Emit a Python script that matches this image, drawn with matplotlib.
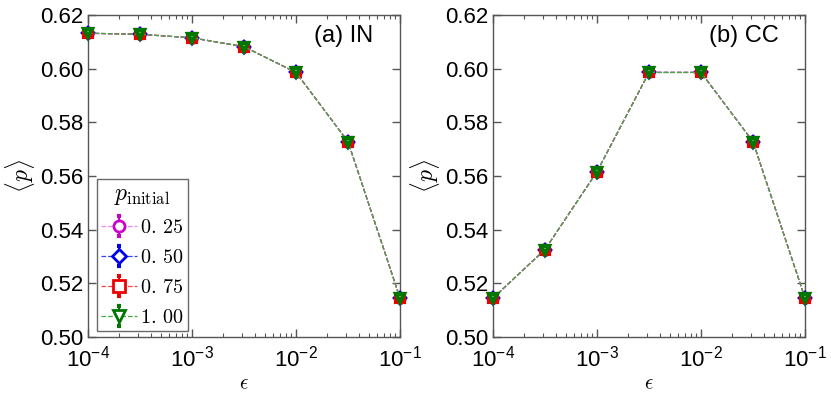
import numpy as np
import matplotlib
matplotlib.use("Agg")
import matplotlib.pyplot as plt
from matplotlib.legend_handler import HandlerErrorbar

plt.rcParams['font.family'] = ['Liberation Sans', 'DejaVu Sans']
plt.rcParams['mathtext.fontset'] = 'cm'

eps = [1e-4, 10**-3.5, 1e-3, 10**-2.5, 1e-2, 10**-1.5, 1e-1]
p_initial = ["0.25", "0.50", "0.75", "1.00"]
p_in = [0.6132, 0.6128, 0.6115, 0.6082, 0.5986, 0.5728, 0.5145]
p_cc = [0.5145, 0.5326, 0.5616, 0.5986, 0.5986, 0.5728, 0.5145]
err = [0.0012, 0.0012, 0.0012, 0.0012, 0.0012, 0.0012, 0.0012]
panel_titles = ["(a) IN", "(b) CC"]

colors = ['#cc00cc', '#0000ee', '#ee0000', '#007700']
line_colors = ['#ee88ee', '#3344ff', '#ff4444', '#44aa44']
markers = ['o', 'D', 's', 'v']

fig = plt.figure(figsize=(8.31, 3.99), dpi=100)
ax1 = fig.add_axes([88/831, 1-337/399, 312/831, 322/399])
ax2 = fig.add_axes([493/831, 1-337/399, 312/831, 322/399])

for ax, data, title in zip([ax1, ax2], [p_in, p_cc], panel_titles):
    for i, lab in enumerate(p_initial):
        ax.errorbar(eps, data, yerr=err, color=line_colors[i], ls='--', lw=0.9,
                    marker=markers[i], ms=6 if markers[i] != 'D' else 5.5,
                    mfc='white', mec=colors[i], mew=3.0, ecolor=colors[i],
                    elinewidth=1.5, capsize=1.5, capthick=2.5,
                    label=rf'${lab[0]}.\,{lab[2:]}$', clip_on=False, zorder=3+i)
    ax.set_xscale('log')
    ax.set_xlim(1e-4, 1e-1)
    ax.set_ylim(0.50, 0.62)
    ax.set_yticks([0.50, 0.52, 0.54, 0.56, 0.58, 0.60, 0.62])
    ax.yaxis.set_major_formatter(matplotlib.ticker.FormatStrFormatter('%.2f'))
    ax.tick_params(which='both', direction='in', top=True, right=True,
                   labelsize=16, color='#555555')
    ax.tick_params(which='major', length=6, width=1)
    ax.tick_params(which='minor', length=3, width=0.8)
    ax.tick_params(axis='x', pad=6)
    for s in ax.spines.values():
        s.set_color('#555555')
        s.set_linewidth(1.0)
    ax.set_xlabel(r'$\epsilon$', fontsize=15, labelpad=2)
    ax.set_ylabel(r'$\langle p\rangle$', fontsize=17, labelpad=2)
    ax.text(0.915, 0.935, title, transform=ax.transAxes, ha='right', va='center',
            fontsize=17)


def upd(legend_handle, orig_handle):
    legend_handle.update_from(orig_handle)
    if hasattr(legend_handle, 'get_marker'):
        m = legend_handle.get_marker()
        if m in ('o', 's', 'v', 'D'):
            legend_handle.set_markeredgewidth(2.0)
            legend_handle.set_markersize(8 if m != 'D' else 7)


leg = ax1.legend(loc='lower left', bbox_to_anchor=(0.01, 0.0), title=r'$p_{\rm initial}$',
                 fontsize=14.5, title_fontsize=17, frameon=True, fancybox=False,
                 edgecolor='#444444', handlelength=1.8, handletextpad=0.15,
                 borderpad=0.2, labelspacing=0.55, borderaxespad=0.3,
                 handler_map={matplotlib.container.ErrorbarContainer: HandlerErrorbar(update_func=upd)})
leg.get_frame().set_linewidth(1.0)

fig.savefig('out.png', dpi=100)
